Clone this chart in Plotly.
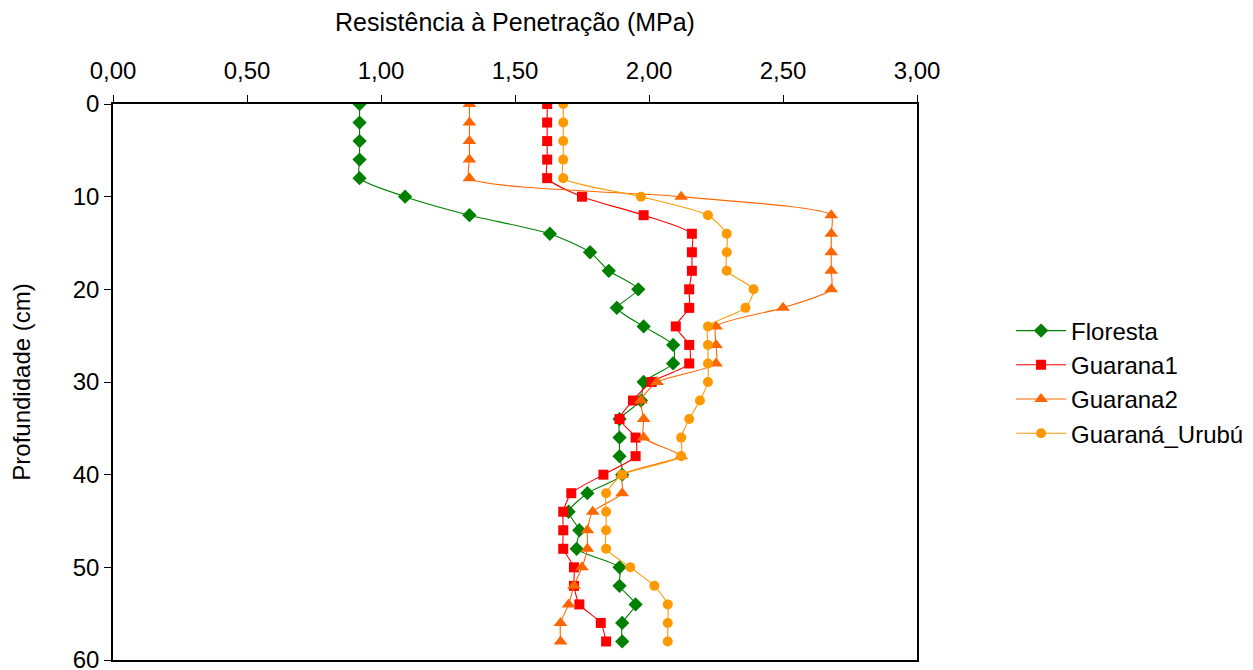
import plotly.graph_objects as go

depth = [0, 2, 4, 6, 8, 10, 12, 14, 16, 18, 20, 22, 24, 26, 28,
         30, 32, 34, 36, 38, 40, 42, 44, 46, 48, 50, 52, 54, 56, 58]

floresta = [0.92, 0.92, 0.92, 0.92, 0.92, 1.09, 1.33, 1.63, 1.78, 1.85,
            1.96, 1.88, 1.98, 2.09, 2.09, 1.98, 1.97, 1.89, 1.89, 1.89,
            1.90, 1.77, 1.70, 1.74, 1.73, 1.89, 1.89, 1.95, 1.90, 1.90]

guarana1 = [1.62, 1.62, 1.62, 1.62, 1.62, 1.75, 1.98, 2.16, 2.16, 2.16,
            2.15, 2.15, 2.10, 2.15, 2.15, 2.01, 1.94, 1.89, 1.95, 1.95,
            1.83, 1.71, 1.68, 1.68, 1.68, 1.72, 1.72, 1.74, 1.82, 1.84]

guarana2 = [1.33, 1.33, 1.33, 1.33, 1.33, 2.12, 2.68, 2.68, 2.68, 2.68,
            2.68, 2.50, 2.25, 2.25, 2.25, 2.03, 1.97, 1.98, 1.98, 2.12,
            1.90, 1.90, 1.79, 1.77, 1.77, 1.75, 1.72, 1.70, 1.67, 1.67]

guarana_urubu = [1.68, 1.68, 1.68, 1.68, 1.68, 1.97, 2.22, 2.29, 2.29, 2.29,
                 2.39, 2.36, 2.22, 2.22, 2.22, 2.22, 2.19, 2.15, 2.12, 2.12,
                 1.90, 1.84, 1.84, 1.84, 1.84, 1.93, 2.02, 2.07, 2.07, 2.07]

series_names = ["Floresta", "Guarana1", "Guarana2", "Guaraná_Urubú"]
x_ticks = [0, 0.5, 1.0, 1.5, 2.0, 2.5, 3.0]
y_ticks = [0, 10, 20, 30, 40, 50, 60]

styles = [
    dict(color="#008000", symbol="diamond", size=11),
    dict(color="#FF0000", symbol="square", size=10),
    dict(color="#FF6600", symbol="triangle-up", size=12),
    dict(color="#FF9900", symbol="circle", size=10),
]

fig = go.Figure()
for name, vals, st in zip(series_names, [floresta, guarana1, guarana2, guarana_urubu], styles):
    fig.add_trace(go.Scatter(
        x=vals, y=depth, name=name, mode="lines+markers",
        line=dict(color=st["color"], width=1.1, shape="spline", smoothing=0.6),
        marker=dict(color=st["color"], symbol=st["symbol"], size=st["size"]),
    ))

fig.update_layout(
    width=1270, height=680,
    paper_bgcolor="white", plot_bgcolor="white",
    margin=dict(l=105, r=361, t=96, b=28),
    separators=",.",
    font=dict(family="Liberation Sans, Arial, sans-serif", size=24, color="black"),
    legend=dict(x=1.117, y=0.5, xanchor="left", yanchor="middle",
                font=dict(size=24), tracegroupgap=0, itemwidth=50),
    showlegend=True,
)
fig.update_xaxes(
    side="top", range=[0, 3], tickvals=x_ticks, tickformat=".2f",
    title=dict(text="Resistência à Penetração (MPa)", font=dict(size=25), standoff=27),
    automargin=False, ticklabelstandoff=7,
    showline=True, linecolor="black", linewidth=1.5, mirror=True,
    ticks="outside", ticklen=7, tickcolor="black", showgrid=False, zeroline=False,
)
fig.update_yaxes(
    range=[60, 0], tickvals=y_ticks,
    title=dict(text="Profundidade (cm)", font=dict(size=24), standoff=40),
    automargin=False,
    showline=True, linecolor="black", linewidth=1.5, mirror=True,
    ticks="outside", ticklen=7, tickcolor="black", showgrid=False, zeroline=False,
)

fig.write_html("out.html")
